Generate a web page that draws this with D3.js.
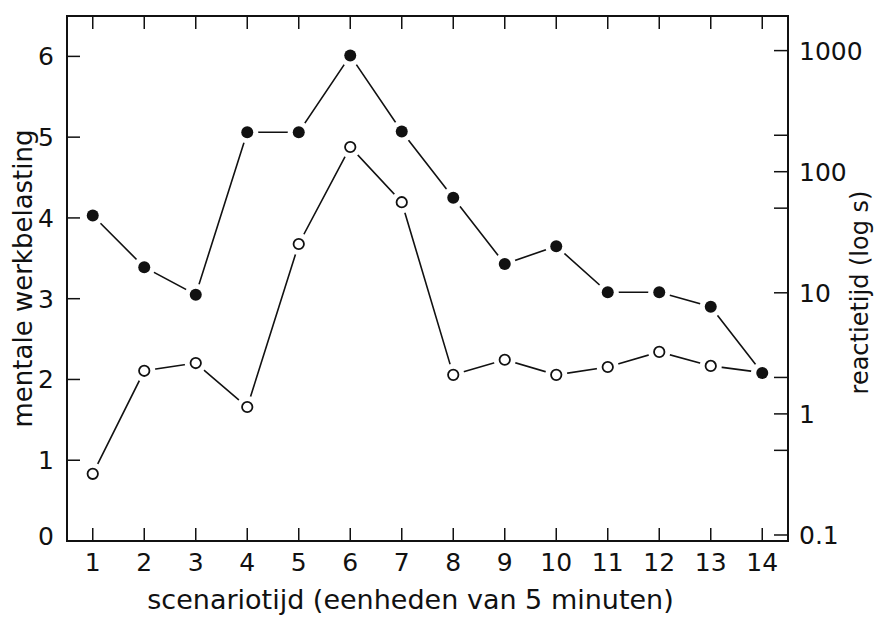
<!DOCTYPE html>
<html>
<head>
<meta charset="utf-8">
<script src="https://cdn.jsdelivr.net/npm/d3@7"></script>
<style>
  body { margin: 0; background: #fff; }
  svg { font-family: "DejaVu Sans", sans-serif; }
</style>
</head>
<body>
<svg id="chart" width="877" height="618"></svg>
<script>
// scenario periods (units of 5 minutes)
const periods = [1, 2, 3, 4, 5, 6, 7, 8, 9, 10, 11, 12, 13, 14]
// filled dots: mental workload (left axis)
const werkbelasting = [4.03, 3.39, 3.05, 5.06, 5.06, 6.01, 5.07, 4.25, 3.43, 3.65, 3.08, 3.08, 2.90, 2.08]
// open dots: reaction time in seconds (right axis, log)
const reactietijd = [0.32, 2.27, 2.63, 1.14, 25.3, 160, 56, 2.1, 2.8, 2.1, 2.44, 3.25, 2.49, 2.19]
const leftTicks = [0, 1, 2, 3, 4, 5, 6]
const rightMajor = [0.1, 1, 10, 100, 1000]
const rightMinor = [0.5, 2, 50, 200]

const width = 877, height = 618
const margin = {top: 16, right: 89, bottom: 77, left: 67}
const x0 = margin.left, x1 = width - margin.right
const yTop = margin.top, yBot = height - margin.bottom

const x = d3.scaleLinear().domain([0.5, 14.5]).range([x0, x1])
const y = d3.scaleLinear().domain([0, 6.5]).range([yBot, yTop])
const y2 = d3.scaleLog().domain([0.0892, 1931]).range([yBot, yTop])

const svg = d3.select('#chart')
const ink = '#111'
const tickLen = 13
const tickFont = 25
const titleFont = 26

// frame
svg.append('rect')
    .attr('x', x0).attr('y', yTop)
    .attr('width', x1 - x0).attr('height', yBot - yTop)
    .attr('fill', 'none').attr('stroke', ink).attr('stroke-width', 2)

// x ticks (bottom and top, pointing inwards)
const xt = svg.append('g').attr('stroke', ink).attr('stroke-width', 1.5)
periods.forEach(p => {
    xt.append('line').attr('x1', x(p)).attr('x2', x(p)).attr('y1', yBot).attr('y2', yBot - tickLen)
    xt.append('line').attr('x1', x(p)).attr('x2', x(p)).attr('y1', yTop).attr('y2', yTop + tickLen)
})
svg.append('g').selectAll('text')
    .data(periods)
    .join('text')
    .attr('x', d => x(d))
    .attr('y', yBot + 30)
    .attr('text-anchor', 'middle')
    .attr('font-size', tickFont)
    .attr('fill', ink)
    .text(d => d)

// left axis ticks
svg.append('g').selectAll('line')
    .data(leftTicks)
    .join('line')
    .attr('x1', x0).attr('x2', x0 + tickLen)
    .attr('y1', d => y(d)).attr('y2', d => y(d))
    .attr('stroke', ink).attr('stroke-width', 1.5)
svg.append('g').selectAll('text')
    .data(leftTicks)
    .join('text')
    .attr('x', x0 - 13)
    .attr('y', d => y(d) - (d === 0 ? 5 : 0))
    .attr('dy', '0.36em')
    .attr('text-anchor', 'end')
    .attr('font-size', tickFont)
    .attr('fill', ink)
    .text(d => d)

// right axis ticks
svg.append('g').selectAll('line')
    .data(rightMajor.concat(rightMinor))
    .join('line')
    .attr('x1', x1).attr('x2', x1 - tickLen - 1)
    .attr('y1', d => y2(d)).attr('y2', d => y2(d))
    .attr('stroke', ink).attr('stroke-width', 1.5)
svg.append('g').selectAll('text')
    .data(rightMajor)
    .join('text')
    .attr('x', x1 + 11)
    .attr('y', d => y2(d))
    .attr('dy', '0.36em')
    .attr('font-size', tickFont)
    .attr('fill', ink)
    .text(d => d)

// axis titles
svg.append('text')
    .attr('x', (x0 + x1) / 2 - 17)
    .attr('y', yBot + 68)
    .attr('text-anchor', 'middle')
    .attr('font-size', titleFont + 1)
    .attr('fill', ink)
    .text('scenariotijd (eenheden van 5 minuten)')
svg.append('text')
    .attr('transform', `translate(32,${(yTop + yBot) / 2}) rotate(-90)`)
    .attr('text-anchor', 'middle')
    .attr('font-size', titleFont)
    .attr('fill', ink)
    .text('mentale werkbelasting')
svg.append('text')
    .attr('transform', `translate(868,${(yTop + yBot) / 2 + 14}) rotate(-90)`)
    .attr('text-anchor', 'middle')
    .attr('font-size', titleFont - 2)
    .attr('fill', ink)
    .text('reactietijd (log s)')

// series
const lineL = d3.line().x((d, i) => x(periods[i])).y(d => y(d))
const lineR = d3.line().x((d, i) => x(periods[i])).y(d => y2(d))

function series(values, line, yScale, filled) {
    const g = svg.append('g')
    g.append('path')
        .attr('d', line(values))
        .attr('fill', 'none')
        .attr('stroke', ink)
        .attr('stroke-width', 1.6)
    // white halo so the line stops short of each marker
    g.selectAll('circle.halo')
        .data(values)
        .join('circle')
        .attr('class', 'halo')
        .attr('cx', (d, i) => x(periods[i]))
        .attr('cy', d => yScale(d))
        .attr('r', 11)
        .attr('fill', '#fff')
    g.selectAll('circle.dot')
        .data(values)
        .join('circle')
        .attr('class', 'dot')
        .attr('cx', (d, i) => x(periods[i]))
        .attr('cy', d => yScale(d))
        .attr('r', filled ? 6 : 5.2)
        .attr('fill', filled ? ink : '#fff')
        .attr('stroke', ink)
        .attr('stroke-width', filled ? 0 : 1.8)
}

series(reactietijd, lineR, y2, false)
series(werkbelasting, lineL, y, true)
</script>
</body>
</html>
